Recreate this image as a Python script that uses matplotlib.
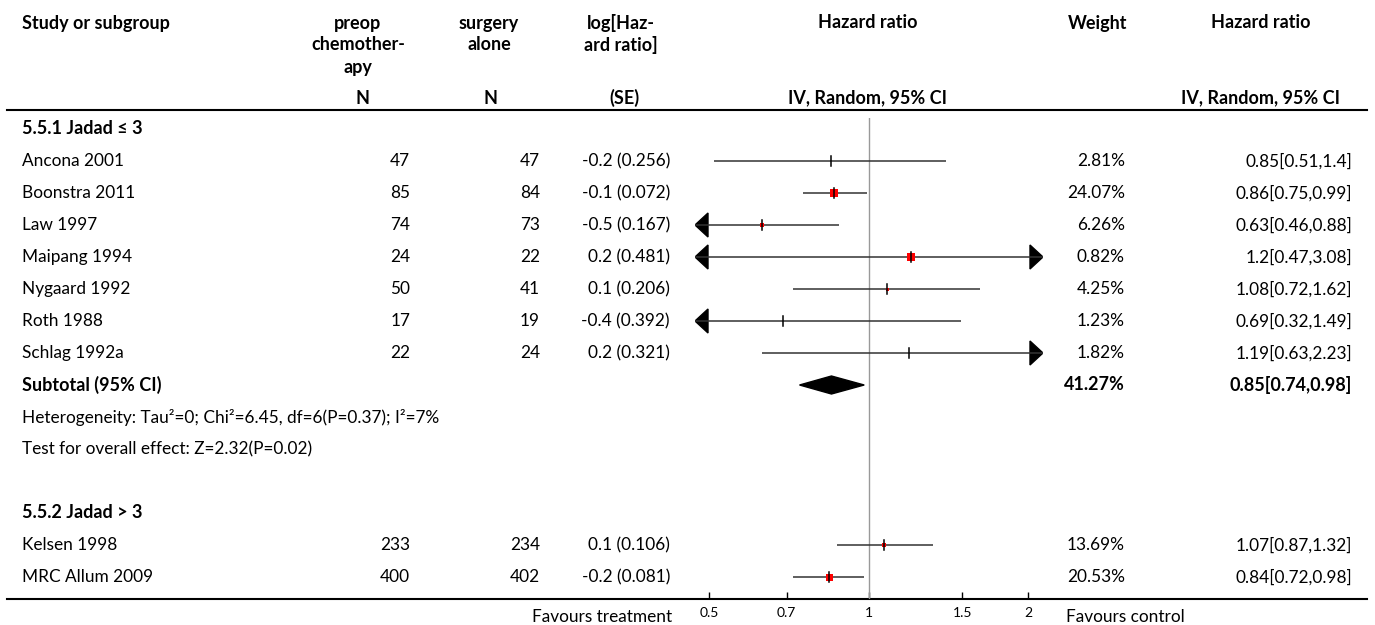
import numpy as np
import matplotlib.pyplot as plt
from matplotlib.patches import Polygon
from matplotlib.ticker import NullLocator

plt.rcParams['font.family'] = ['Lato', 'DejaVu Sans']

# study-level data
studies = ["Ancona 2001", "Boonstra 2011", "Law 1997", "Maipang 1994", "Nygaard 1992",
           "Roth 1988", "Schlag 1992a", "Kelsen 1998", "MRC Allum 2009"]
n_chemo = [47, 85, 74, 24, 50, 17, 22, 233, 400]
n_surgery = [47, 84, 73, 22, 41, 19, 24, 234, 402]
log_hr = [-0.2, -0.1, -0.5, 0.2, 0.1, -0.4, 0.2, 0.1, -0.2]
log_se = [0.256, 0.072, 0.167, 0.481, 0.206, 0.392, 0.321, 0.106, 0.081]
weights = [2.81, 24.07, 6.26, 0.82, 4.25, 1.23, 1.82, 13.69, 20.53]
hr = [0.85, 0.86, 0.63, 1.2, 1.08, 0.69, 1.19, 1.07, 0.84]
hr_lo = [0.51, 0.75, 0.46, 0.47, 0.72, 0.32, 0.63, 0.87, 0.72]
hr_hi = [1.4, 0.99, 0.88, 3.08, 1.62, 1.49, 2.23, 1.32, 0.98]
hr_text = ["0.85[0.51,1.4]", "0.86[0.75,0.99]", "0.63[0.46,0.88]", "1.2[0.47,3.08]",
           "1.08[0.72,1.62]", "0.69[0.32,1.49]", "1.19[0.63,2.23]", "1.07[0.87,1.32]",
           "0.84[0.72,0.98]"]

# subtotal for Jadad <= 3
sub_hr, sub_lo, sub_hi = 0.85, 0.74, 0.98
sub_weight = 41.27
heterogeneity = "Heterogeneity: Tau²=0; Chi²=6.45, df=6(P=0.37); I²=7%"
overall = "Test for overall effect: Z=2.32(P=0.02)"

ticks = [0.5, 0.7, 1, 1.5, 2]
tick_labels = ["0.5", "0.7", "1", "1.5", "2"]

# pixel rows of the table (figure is drawn in pixel units)
W, H = 1375, 625
study_rows = [161, 193, 225, 257, 289, 321, 353, 545, 577]
box_px = [0, 8, 5, 8, 3, 0, 0, 5, 7]
FS = 12.4
FSB = 13

fig = plt.figure(figsize=(W / 100, H / 100), dpi=100)
base = fig.add_axes([0, 0, 1, 1])
base.set_xlim(0, W)
base.set_ylim(H, 0)
base.axis('off')

# header
hdr = dict(fontsize=FSB, fontweight='bold', va='center')
base.text(22, 23, "Study or subgroup", ha='left', **hdr)
for i, s in enumerate(["preop", "chemother-", "apy"]):
    base.text(358, 23 + 22 * i, s, ha='center', **hdr)
for i, s in enumerate(["surgery", "alone"]):
    base.text(489, 23 + 22 * i, s, ha='center', **hdr)
for i, s in enumerate(["log[Haz-", "ard ratio]"]):
    base.text(621, 23 + 22 * i, s, ha='center', **hdr)
base.text(868, 23, "Hazard ratio", ha='center', **hdr)
base.text(1098, 23, "Weight", ha='center', **hdr)
base.text(1261, 23, "Hazard ratio", ha='center', **hdr)
base.text(363, 98, "N", ha='center', **hdr)
base.text(491, 98, "N", ha='center', **hdr)
base.text(624, 98, "(SE)", ha='center', **hdr)
base.text(868, 98, "IV, Random, 95% CI", ha='center', **hdr)
base.text(1261, 98, "IV, Random, 95% CI", ha='center', **hdr)

base.plot([7, 1367], [110, 110], color='black', lw=1.5)
base.plot([7, 1367], [599, 599], color='black', lw=1.5)

# group labels and summary lines
base.text(22, 129, "5.5.1 Jadad ≤ 3", ha='left', **hdr)
base.text(22, 513, "5.5.2 Jadad > 3", ha='left', **hdr)
base.text(22, 385, "Subtotal (95% CI)", ha='left', **hdr)
base.text(1125, 385, f"{sub_weight:.2f}%", ha='right', **hdr)
base.text(1352, 385, f"{sub_hr:.2f}[{sub_lo:.2f},{sub_hi:.2f}]", ha='right', **hdr)
base.text(22, 417, heterogeneity, ha='left', va='center', fontsize=FS)
base.text(22, 449, overall, ha='left', va='center', fontsize=FS)

for i, y in enumerate(study_rows):
    base.text(22, y, studies[i], ha='left', va='center', fontsize=FS)
    base.text(410, y, str(n_chemo[i]), ha='right', va='center', fontsize=FS)
    base.text(540, y, str(n_surgery[i]), ha='right', va='center', fontsize=FS)
    base.text(670, y, f"{log_hr[i]:g} ({log_se[i]:g})", ha='right', va='center', fontsize=FS)
    base.text(1125, y, f"{weights[i]:.2f}%", ha='right', va='center', fontsize=FS)
    base.text(1352, y, hr_text[i], ha='right', va='center', fontsize=FS)

base.text(672, 617, "Favours treatment", ha='right', va='center', fontsize=FS)
base.text(1066, 617, "Favours control", ha='left', va='center', fontsize=FS)

# forest plot panel
x0, x1 = 695, 1043
ax = fig.add_axes([x0 / W, (H - 599) / H, (x1 - x0) / W, (599 - 118) / H])
ax.patch.set_alpha(0)
ax.set_xscale('log')
xmin, xmax = 0.47, 2.13
ax.set_xlim(xmin, xmax)
ax.set_ylim(599, 118)
for sp in ax.spines.values():
    sp.set_visible(False)
ax.set_yticks([])
ax.set_xticks(ticks)
ax.set_xticklabels(tick_labels)
ax.xaxis.set_minor_locator(NullLocator())
ax.tick_params(axis='x', direction='in', length=5, width=1, labelsize=10, pad=6)

ax.axvline(1, color='#999999', lw=1)

tri_w = 13 / (x1 - x0)
ytr = ax.get_yaxis_transform()
for i, y in enumerate(study_rows):
    lo = max(hr_lo[i], xmin)
    hi = min(hr_hi[i], xmax)
    ax.plot([lo, hi], [y, y], color='#333333', lw=1.1, solid_capstyle='butt')
    if hr_lo[i] <= xmin:
        ax.add_patch(Polygon([(0, y), (tri_w, y - 12), (tri_w, y + 12)],
                             closed=True, color='black', transform=ytr))
    if hr_hi[i] >= xmax:
        ax.add_patch(Polygon([(1, y), (1 - tri_w, y - 12), (1 - tri_w, y + 12)],
                             closed=True, color='black', transform=ytr))
    if box_px[i] > 0:
        ax.plot(hr[i], y, marker='s', ms=box_px[i] * 0.72, mew=0, color='red')
    ax.plot([hr[i], hr[i]], [y - 5, y + 5], color='black', lw=1.1)

# subtotal diamond
ys = 385
ax.add_patch(Polygon([(sub_lo, ys), (sub_hr, ys - 9), (sub_hi, ys), (sub_hr, ys + 9)],
                     closed=True, color='black'))

fig.savefig('out.png', dpi=100)
